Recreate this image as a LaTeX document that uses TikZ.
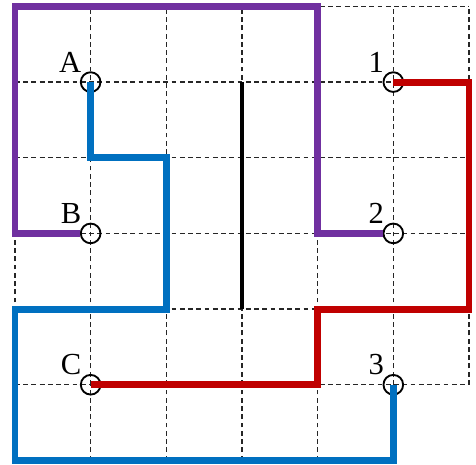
\documentclass[tikz,border=0pt]{standalone}
\usepackage{fontspec}
\setmainfont{Liberation Serif}
\definecolor{wirepurple}{RGB}{112,48,160}
\definecolor{wirered}{RGB}{192,0,0}
\definecolor{wireblue}{RGB}{0,112,192}
\tikzset{
    terminal/.style={circle,draw,line width=0.7pt,minimum size=0.26cm,inner sep=0pt},
    wire/.style={line width=2.6pt},
    gridline/.style={line width=0.5pt,black!85,dash pattern=on 1.8pt off 1.3pt}
}
\begin{document}
\begin{tikzpicture}[font=\fontsize{11.5}{13}\selectfont]
    \useasboundingbox (-0.198,-0.06) rectangle (6.093,6.085);
    % grid
    \draw[gridline] (0,1) grid (6,6)
        (0,0) grid (5,1);
    % terminals
    \node[terminal,label={[anchor=south east,inner sep=0.5pt]north west:A}] (A) at (1,5) {};
    \node[terminal,label={[anchor=south east,inner sep=0.5pt]north west:B}] (B) at (1,3) {};
    \node[terminal,label={[anchor=south east,inner sep=0.5pt]north west:C}] (C) at (1,1) {};
    \node[terminal,label={[anchor=south east,inner sep=0.5pt]north west:1}] (t1) at (5,5) {};
    \node[terminal,label={[anchor=south east,inner sep=0.5pt]north west:2}] (t2) at (5,3) {};
    \node[terminal,label={[anchor=south east,inner sep=0.5pt]north west:3}] (t3) at (5,1) {};
    % wall
    \draw[line width=1.6pt] (3,5) -- (3,2);
    % B to 2
    \draw[wire,wirepurple] (B) -| (0,6) -| (4,3) -- (t2);
    % 1 to C
    \draw[wire,wirered] (t1.center) -| (6,2) -| (4,1) -- (C.center);
    % A to 3
    \draw[wire,wireblue] (A.center) |- (2,4) |- (0,2) |- (5,0) -- (t3.center);
\end{tikzpicture}
\end{document}
